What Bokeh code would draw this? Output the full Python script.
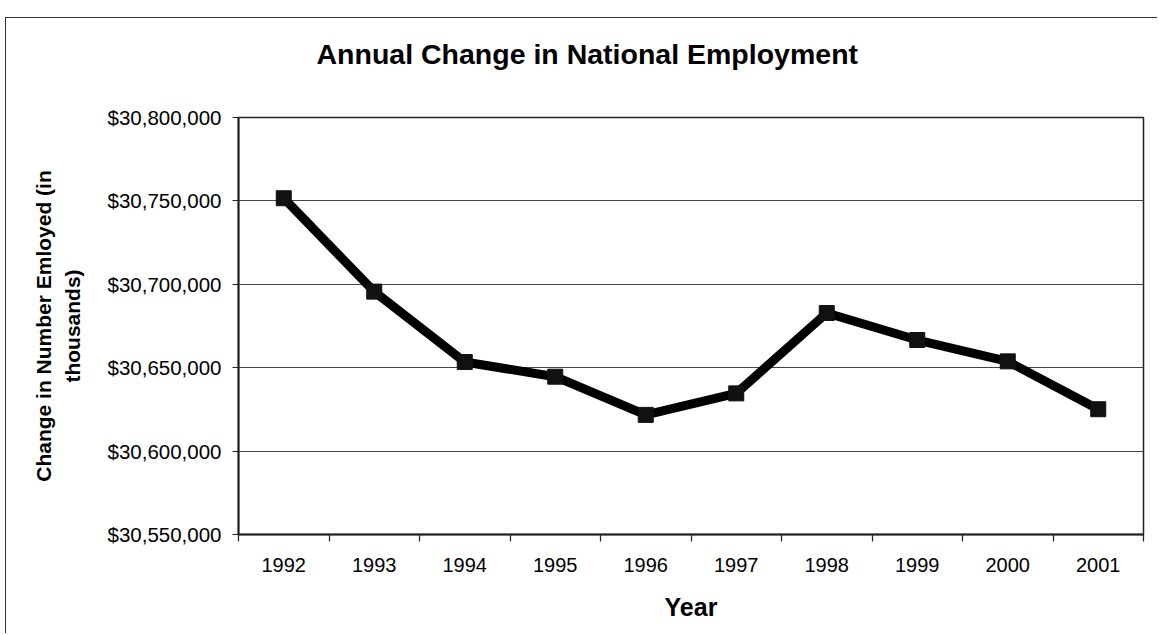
from bokeh.plotting import figure
from bokeh.models import (Range1d, FixedTicker, NumeralTickFormatter,
                          Title, ColumnDataSource)
from bokeh.embed import file_html
from bokeh.resources import INLINE

# ---- data ----
years = ["1992", "1993", "1994", "1995", "1996", "1997", "1998", "1999", "2000", "2001"]
employment = [30751600, 30695600, 30653400, 30644600, 30621700,
              30634600, 30682800, 30666600, 30653800, 30625100]
y_ticks = [30550000, 30600000, 30650000, 30700000, 30750000, 30800000]

title_text = "Annual Change in National Employment"
y_label = "Change in Number Emloyed (in\nthousands)"
x_label = "Year"

FONT = "Liberation Sans"

positions = list(range(1, len(years) + 1))
boundaries = [i + 0.5 for i in range(0, len(years) + 1)]

source = ColumnDataSource(dict(x=positions, y=employment, year=years))

p = figure(width=1152, height=616, output_backend="svg", toolbar_location=None,
           x_range=Range1d(0.5, len(years) + 0.5),
           y_range=Range1d(y_ticks[0], y_ticks[-1]),
           min_border_left=232, min_border_right=15,
           min_border_top=99, min_border_bottom=100,
           background_fill_color="white", border_fill_color="white")

# outer chart-area frame (as in the scanned page)
p.styles = {"margin-left": "5px", "margin-top": "17px",
            "border-left": "1.5px solid #333333",
            "border-top": "1.5px solid #333333"}

p.title = Title(text=title_text, align="left", offset=78, vertical_align="bottom",
                padding=dict(left=0, right=0, top=0, bottom=32),
                text_font=FONT, text_font_size="28.5px", text_font_style="bold",
                text_color="black", standoff=32)

p.outline_line_color = "#222222"
p.outline_line_width = 1.5

# x axis: labels at category centers, tick marks at category boundaries
xa = p.xaxis[0]
xa.ticker = FixedTicker(ticks=positions, minor_ticks=boundaries)
xa.major_label_overrides = {pos: yr for pos, yr in zip(positions, years)}
xa.major_tick_out = 0
xa.major_tick_in = 0
xa.minor_tick_out = 7
xa.minor_tick_in = 0
xa.minor_tick_line_color = "#222222"
xa.minor_tick_line_width = 1.2
xa.axis_line_color = "#222222"
xa.axis_line_width = 2
xa.major_label_text_font = FONT
xa.major_label_text_font_size = "20px"
xa.major_label_text_color = "black"
xa.major_label_standoff = 16
xa.axis_label = x_label
xa.axis_label_text_font = FONT
xa.axis_label_text_font_size = "25px"
xa.axis_label_text_font_style = "bold"
xa.axis_label_text_color = "black"
xa.axis_label_standoff = 18

ya = p.yaxis[0]
ya.ticker = FixedTicker(ticks=y_ticks)
ya.formatter = NumeralTickFormatter(format="$0,0")
ya.major_tick_out = 6
ya.major_tick_in = 0
ya.minor_tick_out = 0
ya.minor_tick_in = 0
ya.major_tick_line_color = "#222222"
ya.major_tick_line_width = 1.2
ya.axis_line_color = "#222222"
ya.axis_line_width = 2
ya.major_label_text_font = FONT
ya.major_label_text_font_size = "20.5px"
ya.major_label_text_color = "black"
ya.major_label_standoff = 11
ya.axis_label = y_label
ya.axis_label_text_font = FONT
ya.axis_label_text_font_size = "21px"
ya.axis_label_text_font_style = "bold"
ya.axis_label_text_color = "black"
ya.axis_label_text_line_height = 1.3
ya.axis_label_standoff = 20

p.xgrid.visible = False
p.ygrid.ticker = FixedTicker(ticks=y_ticks)
p.ygrid.grid_line_color = "#444444"
p.ygrid.grid_line_width = 1

p.line(x="x", y="y", source=source, line_width=9, line_color="black",
       line_join="round")
p.scatter(x="x", y="y", source=source, marker="square", size=15,
          fill_color="#111111", line_color="#111111")

open("out.html", "w").write(file_html(p, INLINE))
